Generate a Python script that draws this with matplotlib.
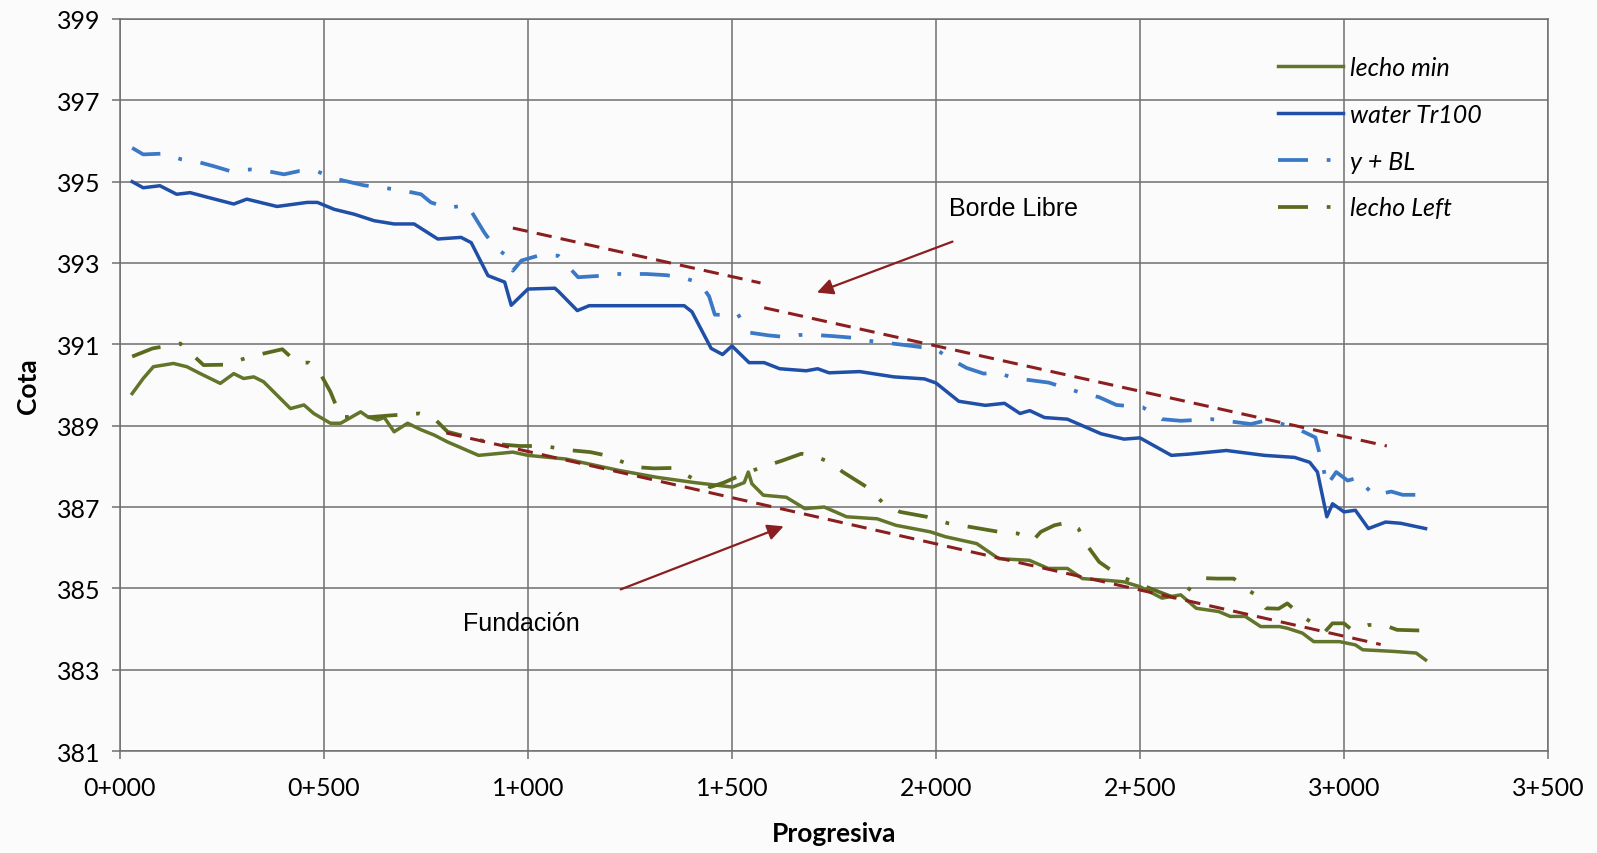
import matplotlib
matplotlib.use('Agg')
import matplotlib.pyplot as plt

# lecho min (solid olive)
min_x = [30, 57, 82, 131, 164, 197, 246, 279, 303, 328, 352, 393, 418, 451, 475, 516, 541, 590, 607, 631,
         648, 672, 705, 738, 770, 803, 879, 963, 1000, 1093, 1223, 1316, 1409, 1502, 1530, 1540, 1549, 1577,
         1633, 1679, 1726, 1781, 1856, 1902, 1986, 2023, 2100, 2154, 2229, 2275, 2322, 2359, 2415, 2461,
         2500, 2554, 2600, 2638, 2693, 2721, 2758, 2796, 2842, 2861, 2898, 2926, 2989, 3028, 3046, 3121,
         3177, 3200]
min_y = [389.79, 390.16, 390.45, 390.53, 390.45, 390.28, 390.04, 390.28, 390.16, 390.2, 390.08, 389.67,
         389.42, 389.51, 389.3, 389.06, 389.06, 389.34, 389.22, 389.14, 389.2, 388.85, 389.06, 388.9,
         388.77, 388.6, 388.27, 388.35, 388.27, 388.18, 387.9, 387.73, 387.6, 387.49, 387.6, 387.86,
         387.57, 387.29, 387.24, 386.96, 387.0, 386.76, 386.71, 386.55, 386.39, 386.27, 386.1, 385.73,
         385.69, 385.49, 385.49, 385.24, 385.2, 385.16, 385.04, 384.76, 384.84, 384.51, 384.43, 384.31,
         384.31, 384.06, 384.06, 384.02, 383.9, 383.69, 383.69, 383.61, 383.49, 383.45, 383.41, 383.24]

# water Tr100 (solid blue)
wat_x = [30, 57, 98, 139, 172, 221, 279, 311, 385, 459, 484, 525, 574, 623, 672, 721, 779, 836, 861, 902,
         943, 959, 1000, 1066, 1075, 1121, 1150, 1250, 1383, 1402, 1449, 1477, 1500, 1542, 1579, 1617,
         1682, 1710, 1738, 1813, 1897, 1972, 2000, 2056, 2121, 2168, 2206, 2230, 2266, 2322, 2405, 2461,
         2500, 2577, 2619, 2712, 2805, 2879, 2916, 2935, 2958, 2972, 3000, 3028, 3060, 3102, 3139, 3200]
wat_y = [395.0, 394.85, 394.9, 394.69, 394.73, 394.6, 394.45, 394.57, 394.39, 394.49, 394.49, 394.32,
         394.2, 394.04, 393.96, 393.96, 393.59, 393.63, 393.5, 392.69, 392.53, 391.96, 392.36, 392.38,
         392.3, 391.83, 391.95, 391.95, 391.95, 391.8, 390.9, 390.75, 390.96, 390.55, 390.55, 390.4,
         390.35, 390.4, 390.3, 390.33, 390.2, 390.15, 390.05, 389.6, 389.5, 389.55, 389.3, 389.37, 389.2,
         389.16, 388.8, 388.67, 388.7, 388.27, 388.3, 388.39, 388.27, 388.22, 388.1, 387.86, 386.76,
         387.08, 386.88, 386.92, 386.47, 386.63, 386.6, 386.47]

# y + BL (dash-dot light blue)
bl_x = [30, 57, 107, 150, 193, 230, 270, 320, 361, 402, 439, 482, 525, 598, 645, 689, 738, 762, 803, 852,
        893, 918, 947, 963, 984, 1025, 1074, 1123, 1170, 1215, 1290, 1340, 1383, 1421, 1444, 1458, 1495,
        1514, 1542, 1590, 1631, 1664, 1706, 1750, 1799, 1841, 1910, 1972, 2000, 2037, 2075, 2117, 2150,
        2187, 2230, 2276, 2349, 2400, 2442, 2507, 2554, 2600, 2675, 2725, 2772, 2805, 2870, 2930, 2949,
        2958, 2981, 3009, 3037, 3046, 3074, 3116, 3144, 3200]
bl_y = [395.83, 395.67, 395.69, 395.55, 395.48, 395.38, 395.26, 395.3, 395.26, 395.18, 395.26, 395.26,
        395.08, 394.91, 394.85, 394.79, 394.69, 394.49, 394.36, 394.42, 393.75, 393.4, 393.18, 392.81,
        393.06, 393.18, 393.18, 392.65, 392.68, 392.73, 392.73, 392.7, 392.63, 392.51, 392.18, 391.73,
        391.72, 391.75, 391.29, 391.22, 391.18, 391.23, 391.23, 391.2, 391.16, 391.08, 391.0, 390.92,
        390.88, 390.63, 390.42, 390.28, 390.31, 390.18, 390.12, 390.06, 389.83, 389.7, 389.51, 389.45,
        389.16, 389.12, 389.16, 389.1, 389.04, 389.12, 389.0, 388.71, 387.98, 387.53, 387.86, 387.65,
        387.73, 387.57, 387.29, 387.38, 387.3, 387.3]

# lecho Left (dash-dot olive)
left_x = [30, 80, 148, 205, 260, 320, 398, 434, 463, 490, 516, 541, 600, 660, 734, 770, 803, 860, 920, 980,
          1040, 1100, 1153, 1191, 1265, 1310, 1353, 1447, 1480, 1540, 1580, 1623, 1670, 1698, 1740, 1772,
          1837, 1870, 1912, 1977, 2030, 2090, 2154, 2200, 2238, 2257, 2290, 2326, 2349, 2373, 2400, 2450,
          2500, 2550, 2600, 2628, 2660, 2689, 2730, 2758, 2790, 2809, 2840, 2861, 2900, 2954, 2972, 3000,
          3019, 3060, 3098, 3130, 3200]
left_y = [390.7, 390.9, 391.02, 390.49, 390.5, 390.7, 390.88, 390.55, 390.55, 390.3, 389.83, 389.22, 389.2,
          389.25, 389.3, 389.18, 388.85, 388.7, 388.55, 388.5, 388.5, 388.4, 388.35, 388.27, 387.98,
          387.95, 387.96, 387.49, 387.6, 387.86, 388.0, 388.14, 388.31, 388.27, 388.1, 387.86, 387.45,
          387.1, 386.88, 386.76, 386.6, 386.5, 386.39, 386.35, 386.18, 386.39, 386.55, 386.63, 386.47,
          386.02, 385.65, 385.3, 385.1, 384.9, 384.71, 385.08, 385.25, 385.24, 385.24, 385.0, 384.8,
          384.51, 384.5, 384.63, 384.3, 383.94, 384.14, 384.14, 383.98, 384.1, 384.1, 383.98, 383.96]

# hand-drawn red guide lines
borde1_x = [963, 1570]
borde1_y = [393.86, 392.51]
borde2_x = [1579, 3105]
borde2_y = [391.9, 388.5]
fund_x = [800, 3090]
fund_y = [388.82, 383.62]

xticks = [0, 500, 1000, 1500, 2000, 2500, 3000, 3500]
xtick_labels = ['0+000', '0+500', '1+000', '1+500', '2+000', '2+500', '3+000', '3+500']
yticks = [381, 383, 385, 387, 389, 391, 393, 395, 397, 399]

fig = plt.figure(figsize=(15.97, 8.54), dpi=100)
fig.patch.set_facecolor('#fbfbfb')
ax = fig.add_axes([0.0751, 0.1194, 0.8942, 0.8572])
ax.set_facecolor('#fbfbfb')

dashdot = (0, (8, 5, 1, 5))
ax.plot(min_x, min_y, color='#62752a', lw=2.5, label='lecho min', zorder=4)
ax.plot(wat_x, wat_y, color='#1f4fa6', lw=2.5, label='water Tr100', zorder=4)
ax.plot(bl_x, bl_y, color='#3b78c6', lw=2.7, linestyle=dashdot, label='y + BL', zorder=4)
ax.plot(left_x, left_y, color='#5a6b1f', lw=2.7, linestyle=dashdot, label='lecho Left', zorder=4)

red = '#8b1f1f'
for xs, ys in [(borde1_x, borde1_y), (borde2_x, borde2_y), (fund_x, fund_y)]:
    ax.plot(xs, ys, color=red, lw=2.2, linestyle=(0, (5, 3)), zorder=5)

ax.annotate('', xy=(1702, 392.25), xytext=(2047, 393.55),
            arrowprops=dict(arrowstyle='-|>', color=red, lw=1.6, mutation_scale=24))
ax.text(2189, 394.35, 'Borde Libre', fontsize=18, family='Liberation Sans', ha='center', va='center')
ax.annotate('', xy=(1633, 386.55), xytext=(1221, 384.95),
            arrowprops=dict(arrowstyle='-|>', color=red, lw=1.6, mutation_scale=24))
ax.text(983, 384.15, 'Fundación', fontsize=18, family='Liberation Sans', ha='center', va='center')

ax.set_xlim(0, 3500)
ax.set_ylim(381, 399)
ax.set_xticks(xticks)
ax.set_xticklabels(xtick_labels)
ax.set_yticks(yticks)
ax.grid(True, color='#6f6f6f', lw=1.1)
ax.set_axisbelow(True)
for s in ax.spines.values():
    s.set_color('#6f6f6f')
    s.set_linewidth(1.1)
ax.tick_params(axis='both', colors='#6f6f6f', length=6, width=1.1, labelcolor='black',
               labelsize=18)
ax.tick_params(axis='x', pad=12)
ax.tick_params(axis='y', pad=8)
for lab in ax.get_xticklabels() + ax.get_yticklabels():
    lab.set_family('Lato')

ax.set_xlabel('Progresiva', fontsize=19, fontweight='bold', family='Lato', labelpad=16)
ax.set_ylabel('Cota', fontsize=19, fontweight='bold', family='Lato', labelpad=12)

leg = ax.legend(loc='upper left', bbox_to_anchor=(0.795, 0.98), frameon=False,
                prop={'family': 'Lato', 'style': 'italic', 'size': 18},
                handlelength=2.6, handletextpad=0.3, labelspacing=0.95)

fig.savefig('out.png', dpi=100, facecolor=fig.get_facecolor())
